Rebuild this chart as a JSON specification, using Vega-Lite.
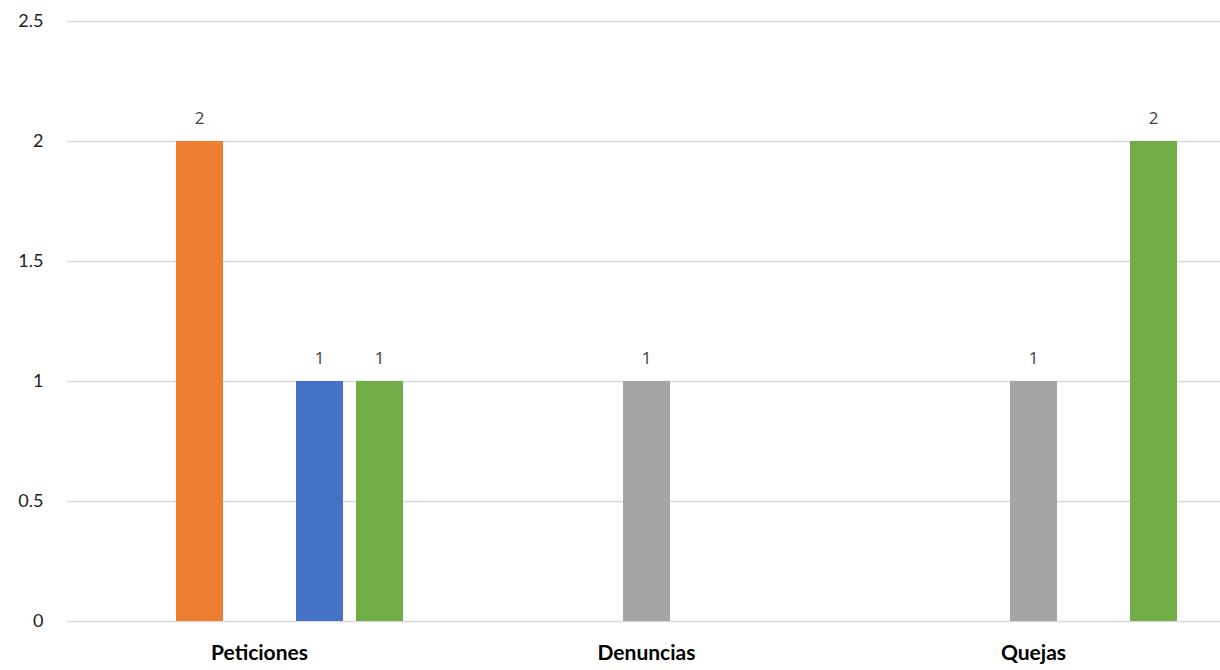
{
  "$schema": "https://vega.github.io/schema/vega-lite/v6.json",
  "width": 1161,
  "height": 600,
  "autosize": {"type": "none"},
  "padding": {"left": 66, "top": 21, "right": 0, "bottom": 49},
  "background": "#ffffff",
  "config": {"view": {"stroke": null}},
  "data": {
    "values": [
      {"tipo": "Peticiones", "serie": "S2", "total": 2},
      {"tipo": "Peticiones", "serie": "S4", "total": 1},
      {"tipo": "Peticiones", "serie": "S5", "total": 1},
      {"tipo": "Denuncias", "serie": "S3", "total": 1},
      {"tipo": "Quejas", "serie": "S3", "total": 1},
      {"tipo": "Quejas", "serie": "S5", "total": 2}
    ]
  },
  "encoding": {
    "x": {
      "field": "tipo",
      "type": "nominal",
      "sort": ["Peticiones", "Denuncias", "Quejas"],
      "scale": {"paddingInner": 0.2248, "paddingOuter": 0.1124},
      "axis": {
        "title": null,
        "labelAngle": 0,
        "domain": false,
        "ticks": false,
        "labelFont": "Lato",
        "labelFontWeight": "bold",
        "labelFontSize": 21,
        "labelColor": "#000000",
        "labelPadding": 21
      }
    },
    "xOffset": {
      "field": "serie",
      "type": "nominal",
      "scale": {"domain": ["S1", "S2", "S3", "S4", "S5"], "paddingInner": 0.2167, "paddingOuter": 0.1083}
    },
    "y": {
      "field": "total",
      "type": "quantitative",
      "scale": {"domain": [0, 2.5], "nice": false},
      "axis": {
        "title": null,
        "values": [0, 0.5, 1, 1.5, 2, 2.5],
        "labelExpr": "format(datum.value, '~g')",
        "domain": false,
        "ticks": false,
        "labelFont": "Lato",
        "labelFontSize": 18,
        "labelColor": "#222222",
        "labelPadding": 23,
        "gridColor": "#D9D9D9",
        "gridWidth": 1.5
      }
    }
  },
  "layer": [
    {
      "mark": {"type": "bar"},
      "encoding": {
        "color": {
          "field": "serie",
          "type": "nominal",
          "scale": {
            "domain": ["S1", "S2", "S3", "S4", "S5"],
            "range": ["#FFC000", "#ED7D31", "#A5A5A5", "#4472C4", "#70AD47"]
          },
          "legend": null
        }
      }
    },
    {
      "mark": {
        "type": "text",
        "baseline": "alphabetic",
        "dy": -17,
        "font": "Open Sans",
        "fontSize": 17,
        "color": "#404040"
      },
      "encoding": {
        "text": {"field": "total", "type": "quantitative"}
      }
    }
  ]
}
